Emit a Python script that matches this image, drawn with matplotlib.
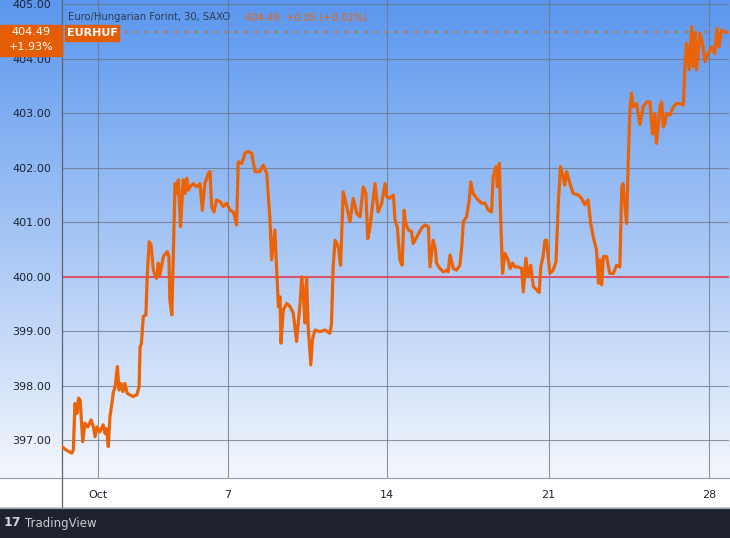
#!/usr/bin/env python3

import numpy as np
import matplotlib
matplotlib.use("Agg")
import matplotlib.pyplot as plt
from matplotlib.colors import LinearSegmentedColormap
from matplotlib.patches import Rectangle

# time in trading days since Sep 30 (30-min chart, weekends skipped)
days = [0.00, 0.12, 0.30, 0.35, 0.40, 0.46, 0.51, 0.56, 0.64, 0.71, 0.80, 0.90,
        0.97, 1.02, 1.08, 1.17, 1.27, 1.33, 1.37, 1.43, 1.48, 1.54, 1.58, 1.64,
        1.71, 1.76, 1.82, 1.88, 1.94, 2.01, 2.10, 2.19, 2.31, 2.38, 2.41, 2.45,
        2.51, 2.59, 2.63, 2.69, 2.75, 2.82, 2.87, 2.92, 2.97, 3.02, 3.13, 3.25,
        3.30, 3.33, 3.39, 3.49, 3.55, 3.59, 3.66, 3.74, 3.80, 3.85, 3.90, 3.95,
        4.05, 4.16, 4.26, 4.33, 4.41, 4.52, 4.57, 4.62, 4.69, 4.77, 4.88, 4.98,
        5.08, 5.19, 5.29, 5.39, 5.44, 5.55, 5.65, 5.75, 5.85, 5.96, 6.11, 6.21,
        6.32, 6.42, 6.47, 6.57, 6.63, 6.68, 6.73, 6.76, 6.83, 6.94, 7.04, 7.14,
        7.24, 7.35, 7.40, 7.45, 7.50, 7.55, 7.60, 7.68, 7.73, 7.81, 7.96, 8.12,
        8.27, 8.32, 8.37, 8.43, 8.53, 8.60, 8.68, 8.79, 8.89, 8.99, 9.10, 9.20,
        9.30, 9.38, 9.44, 9.51, 9.66, 9.76, 9.87, 9.97, 10.02, 10.12, 10.23, 10.28,
        10.35, 10.43, 10.50, 10.56, 10.61, 10.69, 10.79, 10.84, 10.95, 11.10, 11.20, 11.31,
        11.36, 11.46, 11.53, 11.56, 11.67, 11.77, 11.87, 11.92, 11.98, 12.08, 12.18, 12.28,
        12.34, 12.39, 12.49, 12.57, 12.62, 12.69, 12.80, 12.95, 13.06, 13.16, 13.26, 13.31,
        13.40, 13.44, 13.50, 13.54, 13.60, 13.67, 13.77, 13.83, 13.91, 13.98, 14.08, 14.19,
        14.24, 14.32, 14.39, 14.47, 14.55, 14.65, 14.73, 14.78, 14.85, 14.91, 14.96, 15.01,
        15.06, 15.16, 15.25, 15.32, 15.39, 15.47, 15.52, 15.58, 15.68, 15.78, 15.94, 16.04,
        16.14, 16.24, 16.32, 16.40, 16.50, 16.56, 16.60, 16.66, 16.71, 16.81, 16.91, 17.02,
        17.12, 17.22, 17.28, 17.32, 17.38, 17.43, 17.48, 17.53, 17.58, 17.63, 17.74, 17.84,
        17.94, 18.05, 18.15, 18.23, 18.30, 18.35, 18.46, 18.51, 18.56, 18.61, 18.66, 18.77,
        18.87, 18.97, 19.07, 19.18, 19.23, 19.28, 19.36, 19.44, 19.48, 19.55, 19.59, 19.69,
        19.77, 19.85, 19.95, 20.05, 20.15, 20.22, 20.28, 20.36, 20.46, 20.52]

price = [396.88, 396.82, 396.76, 396.82, 397.67, 397.49, 397.77, 397.73, 396.97, 397.31, 397.24, 397.37,
         397.24, 397.06, 397.24, 397.15, 397.28, 397.12, 397.21, 396.88, 397.43, 397.67, 397.86, 397.98,
         398.35, 397.92, 398.04, 397.89, 398.04, 397.86, 397.83, 397.80, 397.83, 397.98, 398.71, 398.77,
         399.27, 399.30, 400.00, 400.64, 400.58, 400.12, 400.03, 399.97, 400.25, 400.03, 400.37, 400.46,
         400.37, 399.57, 399.30, 401.71, 401.53, 401.78, 400.92, 401.78, 401.53, 401.81, 401.59, 401.65,
         401.71, 401.65, 401.71, 401.22, 401.71, 401.90, 401.93, 401.29, 401.19, 401.41, 401.38, 401.29,
         401.35, 401.22, 401.19, 400.95, 402.11, 402.08, 402.27, 402.30, 402.27, 401.93, 401.93, 402.05,
         401.90, 401.04, 400.31, 400.86, 400.07, 399.45, 399.63, 398.78, 399.39, 399.51, 399.45, 399.33,
         398.81, 399.51, 400.00, 399.69, 399.15, 399.98, 399.08, 398.38, 398.84, 399.02, 398.99, 399.02,
         398.96, 399.14, 400.18, 400.67, 400.55, 400.21, 401.56, 401.29, 401.01, 401.44, 401.16, 401.10,
         401.65, 401.53, 400.70, 400.92, 401.71, 401.19, 401.35, 401.71, 401.47, 401.44, 401.50, 401.04,
         400.92, 400.31, 400.21, 401.22, 400.98, 400.86, 400.83, 400.61, 400.73, 400.89, 400.95, 400.92,
         400.18, 400.67, 400.49, 400.25, 400.15, 400.09, 400.12, 400.09, 400.40, 400.15, 400.12, 400.21,
         400.55, 401.01, 401.10, 401.41, 401.74, 401.53, 401.44, 401.35, 401.35, 401.22, 401.19, 401.84,
         402.02, 401.65, 402.08, 401.10, 400.06, 400.43, 400.31, 400.15, 400.25, 400.18, 400.18, 400.15,
         399.72, 400.34, 400.00, 400.21, 399.82, 399.76, 399.71, 400.18, 400.37, 400.67, 400.67, 400.37,
         400.06, 400.12, 400.28, 401.35, 402.02, 401.84, 401.68, 401.93, 401.71, 401.53, 401.50, 401.44,
         401.32, 401.41, 400.98, 400.73, 400.49, 399.88, 400.31, 399.85, 400.37, 400.37, 400.06, 400.06,
         400.21, 400.18, 401.65, 401.71, 401.29, 400.98, 402.14, 403.06, 403.37, 403.12, 403.18, 402.79,
         403.12, 403.21, 403.21, 402.62, 403.00, 402.45, 403.12, 403.21, 402.75, 402.81, 403.00, 402.97,
         403.12, 403.18, 403.18, 403.15, 403.86, 404.29, 403.80, 404.59, 403.86, 404.47, 403.80, 404.47,
         404.29, 403.95, 404.10, 404.22, 404.10, 404.56, 404.22, 404.53, 404.50, 404.49]

y_ticks = [397, 398, 399, 400, 401, 402, 403, 404, 405]
x_tick_pos = [1.11, 5.11, 10.03, 15.02, 19.97]
x_tick_labels = ["Oct", "7", "14", "21", "28"]

last_price = 404.49
reference_level = 400.0
title = "Euro/Hungarian Forint, 30, SAXO"
title_quote = "404.49  +0.05 (+0.01%)"
symbol = "EURHUF"
change_pct = "+1.93%"

ORANGE = "#eb6307"
BOX = "#e45c04"
W, H = 730, 538


def main():
    plt.rcParams['font.family'] = ['DejaVu Sans']
    fig = plt.figure(figsize=(W / 100, H / 100), dpi=100)
    fig.patch.set_facecolor("white")

    # gradient backdrop behind price scale and plot
    bottom = 60 / H
    height = 478 / H
    bg = fig.add_axes([0, bottom, 1, height])
    cmap = LinearSegmentedColormap.from_list("tvbg", ["#5b97ee", "#a6c6f5", "#f4f7fd"])
    bg.imshow(np.linspace(0, 1, 256).reshape(-1, 1), aspect="auto", cmap=cmap,
              extent=[0, 1, 0, 1])
    bg.set_axis_off()

    ax = fig.add_axes([62 / W, bottom, 667 / W, height])
    ax.set_facecolor("none")
    ax.set_xlim(0, 20.59)
    ax.set_ylim(396.303, 405.082)

    ax.set_yticks(y_ticks)
    ax.set_yticklabels([f"{v:.2f}" for v in y_ticks])
    ax.set_xticks(x_tick_pos)
    ax.set_xticklabels(x_tick_labels)
    ax.tick_params(axis="y", length=0, pad=8, labelsize=8, labelcolor="#1c2433")
    ax.tick_params(axis="x", length=0, pad=9, labelsize=8, labelcolor="#1c2433")
    ax.grid(True, color="#6d7483", lw=0.8, alpha=0.75)
    ax.set_axisbelow(True)
    for s in ["top", "right", "bottom"]:
        ax.spines[s].set_visible(False)
    ax.spines["left"].set_color("#5d6370")
    ax.spines["left"].set_linewidth(0.9)

    ax.axhline(reference_level, color="#e0506b", lw=1.4, zorder=2)
    ax.axhline(last_price, xmin=0.08, color=ORANGE, lw=1.6, ls=(0, (1, 3.5)), zorder=2)
    ax.plot(days, price, color=ORANGE, lw=2.3, solid_joinstyle="round", zorder=3)

    # title line
    fig.text(68 / W, 1 - 17 / H, title, fontsize=7.2, color="#2e3b55", va="center")
    fig.text(245 / W, 1 - 17 / H, title_quote, fontsize=7.2, color=ORANGE, va="center")

    # last price label on the scale
    fig.patches.append(Rectangle((0, 1 - 56 / H), 62 / W, 31 / H,
                                 transform=fig.transFigure, color=BOX, zorder=5))
    fig.text(31 / W, 1 - 32 / H, f"{last_price:.2f}", fontsize=8, color="white",
             ha="center", va="center", zorder=6)
    fig.text(31 / W, 1 - 47 / H, change_pct, fontsize=8, color="white",
             ha="center", va="center", zorder=6)
    fig.patches.append(Rectangle((65 / W, 1 - 41 / H), 54 / W, 16 / H,
                                 transform=fig.transFigure, color=BOX, zorder=5))
    fig.text(92 / W, 1 - 33 / H, symbol, fontsize=8, color="white", weight="bold",
             ha="center", va="center", zorder=6)

    # time scale band and footer
    fig.add_artist(plt.Line2D([0, 1], [bottom, bottom], color="#9aa0ab", lw=0.9))
    fig.add_artist(plt.Line2D([62 / W, 62 / W], [30 / H, bottom], color="#5d6370", lw=0.9))
    fig.add_artist(plt.Line2D([0, 1], [30 / H, 30 / H], color="#9aa0ab", lw=0.9))
    fig.patches.append(Rectangle((0, 0), 1, 30 / H, transform=fig.transFigure,
                                 color="#1e222d", zorder=1))
    fig.text(4 / W, 15 / H, "17", fontsize=9, color="#d1d4dc", weight="bold",
             va="center", zorder=2)
    fig.text(25 / W, 15 / H, "TradingView", fontsize=8.5, color="#c9ccd4",
             va="center", zorder=2)

    fig.savefig("out.png", dpi=100)


if __name__ == "__main__":
    main()
